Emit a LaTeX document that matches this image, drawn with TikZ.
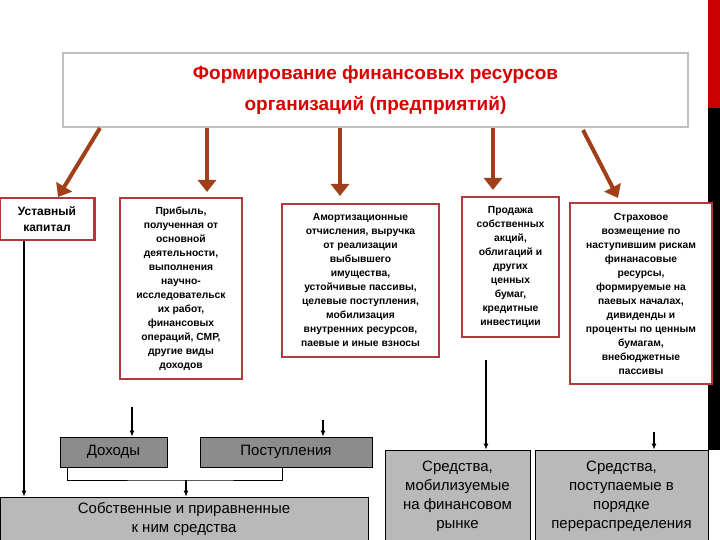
\documentclass[tikz,border=0pt]{standalone}
\usepackage{fontspec}
\setmainfont{Liberation Sans}
\usetikzlibrary{arrows.meta}
\definecolor{boxred}{HTML}{B03A3A}
\definecolor{brown}{HTML}{A0401A}
\begin{document}
\begin{tikzpicture}[x=1pt,y=-1pt,
  rbox/.style={draw=boxred,line width=2.5pt,fill=white,align=center,inner sep=1pt,font=\bfseries\fontsize{10.3}{14}\selectfont},
  gbox/.style={draw=black,line width=0.6pt,fill=gray!55,align=center,font=\fontsize{15}{19}\selectfont},
  dbox/.style={draw=black,line width=0.6pt,fill=gray!90,align=center,font=\fontsize{15}{18}\selectfont},
  big/.style={draw=brown,line width=4pt,-{Triangle[length=12pt,width=18pt]}},
  thin/.style={line width=1.3pt,-{Latex[length=6pt,width=5pt]}}]
\useasboundingbox (0,0) rectangle (720,540);
\fill[red!80!black] (708,0) rectangle (720,108);
\fill[black] (708,108) rectangle (720,450);
\node[draw=gray!50,line width=2pt,fill=white,minimum width=625pt,minimum height=74pt,align=center,text=red!85!black,font=\bfseries\fontsize{19}{31}\selectfont] (t) at (375.5,90) {Формирование финансовых ресурсов\\организаций (предприятий)};
\node[rbox,minimum width=95pt,minimum height=42pt,font=\bfseries\fontsize{12}{16}\selectfont] (u) at (47,219) {Уставный\\капитал};
\node[rbox,minimum width=122pt,minimum height=181pt] (p) at (181,288.5) {Прибыль,\\полученная от\\основной\\деятельности,\\выполнения\\научно-\\исследовательск\\их работ,\\финансовых\\операций, СМР,\\другие виды\\доходов};
\node[rbox,minimum width=157pt,minimum height=153pt] (a) at (360.5,280.5) {Амортизационные\\отчисления, выручка\\от реализации\\выбывшего\\имущества,\\устойчивые пассивы,\\целевые поступления,\\мобилизация\\внутренних ресурсов,\\паевые и иные взносы};
\node[rbox,minimum width=97pt,minimum height=140pt] (s) at (510.5,267) {Продажа\\собственных\\акций,\\облигаций и\\других\\ценных\\бумаг,\\кредитные\\инвестиции};
\node[rbox,minimum width=142pt,minimum height=181pt] (st) at (641,293.5) {Страховое\\возмещение по\\наступившим рискам\\финанасовые\\ресурсы,\\формируемые на\\паевых началах,\\дивиденды и\\проценты по ценным\\бумагам,\\внебюджетные\\пассивы};
\node[dbox,minimum width=107pt,minimum height=30pt] (d) at (113.5,452) {Доходы};
\node[dbox,minimum width=172pt,minimum height=30pt] (po) at (286,452) {Поступления};
\node[gbox,minimum width=368pt,minimum height=44pt] (c) at (184,519) {Собственные и приравненные\\к ним средства};
\node[gbox,minimum width=145pt,minimum height=92pt] (m) at (457.5,496) {Средства,\\мобилизуемые\\на финансовом\\рынке};
\node[gbox,minimum width=173pt,minimum height=92pt] (r) at (621.5,496) {Средства,\\поступаемые в\\порядке\\перераспределения};
\coordinate (a1) at (100,128); \coordinate (a2) at (207,128); \coordinate (a3) at (340,128);
\coordinate (a4) at (493,128); \coordinate (a5) at (583,130);
\draw[big] (a1) -- (58,197);
\draw[big] (a2) -- (207,192);
\draw[big] (a3) -- (340,196);
\draw[big] (a4) -- (493,190);
\draw[big] (a5) -- (618,198);
\draw[thin] (u.south -| 24,0) -- (c.north -| 24,0);
\coordinate (dd) at (132,407); \draw[thin] (dd) -- (d.north -| dd);
\coordinate (pp) at (323,420); \draw[thin] (pp) -- (po.north -| pp);
\draw[line width=0.8pt] (67,467) |- (186,480) -| (282,467);
\coordinate (cc) at (186,480); \draw[thin] (cc) -- (c.north -| cc);
\coordinate (mm) at (486,360); \draw[thin] (mm) -- (m.north -| mm);
\coordinate (rr) at (654,432); \draw[thin] (rr) -- (r.north -| rr);
\end{tikzpicture}
\end{document}
